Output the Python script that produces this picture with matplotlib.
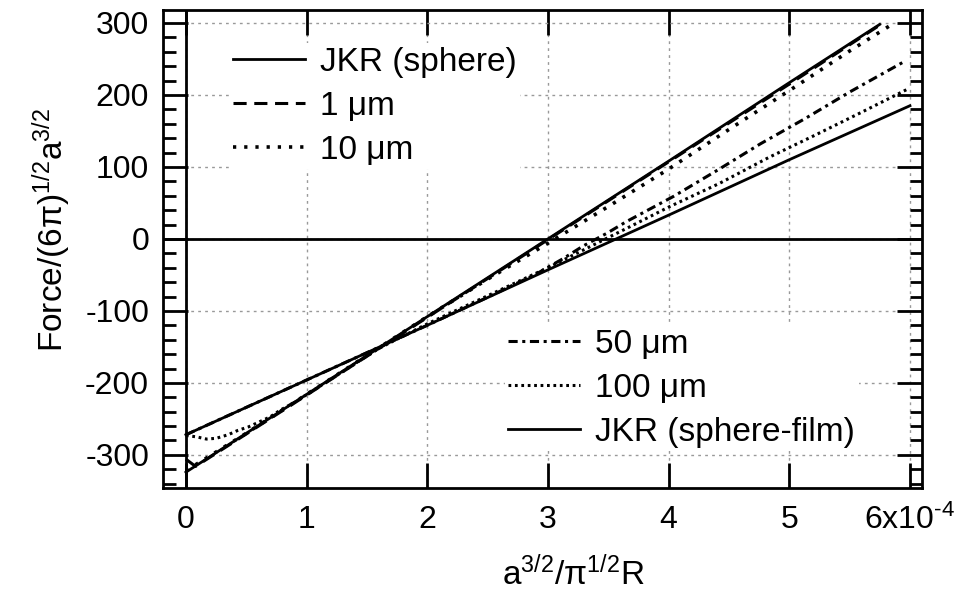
import numpy as np
from matplotlib import pyplot as plt
from matplotlib.lines import Line2D
from matplotlib.ticker import MultipleLocator

plt.rcParams['font.family'] = ['Liberation Sans', 'DejaVu Sans']
plt.rcParams['mathtext.fontset'] = 'custom'
plt.rcParams['mathtext.rm'] = 'Liberation Sans'
plt.rcParams['mathtext.it'] = 'Liberation Sans'
plt.rcParams['axes.unicode_minus'] = False

# x in units of 1e-4, y is Force/(6pi)^1/2 a^3/2
sphere_x = [0, 1, 2, 3, 4, 5, 5.75]
sphere_y = [-324, -216, -108, 0, 108, 217, 298]

film_x = [0, 1, 2, 3, 4, 5, 6]
film_y = [-272, -196, -120, -43, 33, 110, 185]

um1_x = [0, 0.08, 0.5, 1, 2, 3, 4, 5, 5.75]
um1_y = [-306, -316, -271, -217, -109, -1, 107, 215, 297]

um10_x = [0, 0.5, 1, 1.5, 2, 2.5, 3, 3.5, 4, 4.5, 5, 5.5, 5.87]
um10_y = [-322, -270, -216, -162, -108, -56, -6, 45, 97, 152, 206, 261, 300]

um50_x = [0, 0.5, 1, 1.5, 2, 2.5, 2.9, 3.13, 3.29, 3.49, 3.65, 4.04, 4.42, 4.76, 5.14, 5.5, 5.96]
um50_y = [-272, -234, -196, -158, -120, -81, -49, -27, -10, 8, 24, 59, 97, 132, 168, 204, 247]

um100_x = [0, 0.09, 0.17, 0.25, 0.35, 0.43, 0.52, 0.61, 0.7, 0.78, 0.9, 1.2, 1.6, 2, 2.5, 3,
           3.68, 4.01, 4.42, 4.84, 5.2, 5.6, 5.98]
um100_y = [-273, -275, -278, -277, -272, -266, -261, -254, -247, -238, -227, -195, -152, -118, -79, -40,
           17, 45, 77, 114, 143, 176, 208]

xtick_vals = [0, 1, 2, 3, 4, 5, 6]
xtick_labels = ['0', '1', '2', '3', '4', '5', '6x10$^{\\text{-4}}$']

styles = {
    'JKR (sphere)': dict(ls='-', lw=2.0),
    '1 \u03bcm': dict(ls=(0, (4.3, 2.5)), lw=2.2),
    '10 \u03bcm': dict(ls=(0, (0.9, 2.2)), lw=2.6),
    '50 \u03bcm': dict(ls=(0, (3, 1.5, 1, 1.5)), lw=2.2),
    '100 \u03bcm': dict(ls=(0, (0.9, 1.2)), lw=2.2),
    'JKR (sphere-film)': dict(ls='-', lw=2.0),
}

fig = plt.figure(figsize=(9.65, 5.99), dpi=100)
ax = fig.add_axes([0.1689, 0.1853, 0.7865, 0.798])

ax.grid(True, which='major', color='#999999', ls=(0, (2, 3)), lw=1.0)
ax.axhline(0, color='black', lw=2.0)
ax.axvline(0, color='black', lw=2.0)

series = [
    ('JKR (sphere)', sphere_x, sphere_y),
    ('1 \u03bcm', um1_x, um1_y),
    ('10 \u03bcm', um10_x, um10_y),
    ('50 \u03bcm', um50_x, um50_y),
    ('100 \u03bcm', um100_x, um100_y),
    ('JKR (sphere-film)', film_x, film_y),
]
for name, xs, ys in series:
    st = styles[name]
    ax.plot(xs, ys, color='black', ls=st['ls'], lw=st['lw'])

ax.set_xlim(-0.19, 6.10)
ax.set_ylim(-346, 318)
ax.set_xticks(xtick_vals)
ax.set_xticklabels(xtick_labels)
ax.set_yticks([-300, -200, -100, 0, 100, 200, 300])
ax.yaxis.set_minor_locator(MultipleLocator(20))

ax.tick_params(which='both', direction='in', top=True, right=True, labelsize=23, width=2)
ax.tick_params(which='major', length=18)
ax.tick_params(axis='x', which='major', pad=12)
ax.tick_params(axis='y', which='major', pad=10)
ax.tick_params(which='minor', length=9)
for sp in ax.spines.values():
    sp.set_linewidth(2.0)

ax.set_xlabel('a$^{\\mathregular{3/2}}$/\u03c0$^{\\mathregular{1/2}}$R', fontsize=24)
ax.set_ylabel('Force/(6\u03c0)$^{\\mathregular{1/2}}$a$^{\\mathregular{3/2}}$', fontsize=24)
ax.xaxis.set_label_coords(0.541, -0.142)
ax.yaxis.set_label_coords(-0.118, 0.54)

def handles(names):
    return [Line2D([], [], color='black', ls=styles[n]['ls'], lw=styles[n]['lw']) for n in names]

names1 = ['JKR (sphere)', '1 \u03bcm', '10 \u03bcm']
names2 = ['50 \u03bcm', '100 \u03bcm', 'JKR (sphere-film)']
leg_opts = dict(fontsize=24, frameon=True, facecolor='white', edgecolor='none', framealpha=1,
                fancybox=False, borderpad=0.1, borderaxespad=0, handlelength=2.16,
                handletextpad=0.45, labelspacing=0.39)
leg1 = ax.legend(handles(names1), names1, loc='upper left', bbox_to_anchor=(0.088, 0.930), **leg_opts)
ax.add_artist(leg1)
ax.legend(handles(names2), names2, loc='lower left', bbox_to_anchor=(0.4506, 0.077), **leg_opts)

fig.savefig('out.png', dpi=100)
plt.close(fig)
